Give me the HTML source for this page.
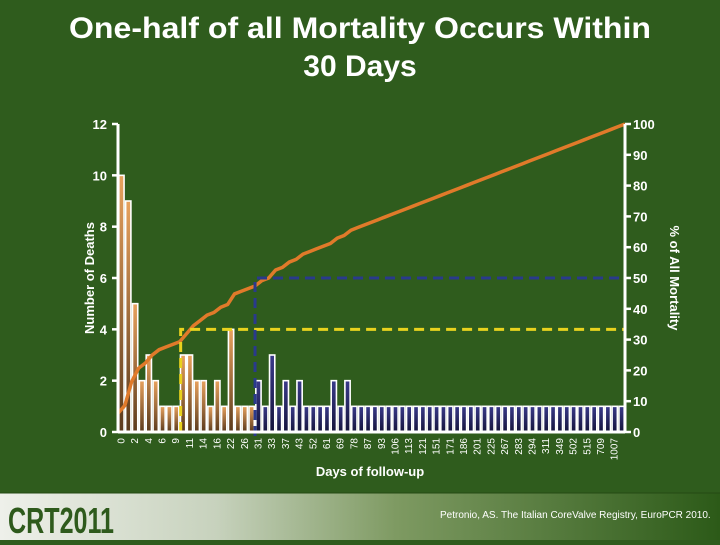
<!DOCTYPE html>
<html><head><meta charset="utf-8"><style>
body{margin:0;width:720px;height:540px;overflow:hidden;background:#2f5c1d;font-family:"Liberation Sans",sans-serif}
</style></head><body>
<svg width="720" height="540" viewBox="0 0 720 540">
<defs>
<linearGradient id="ob" x1="0" y1="0" x2="0" y2="1"><stop offset="0" stop-color="#e8a25e"/><stop offset="1" stop-color="#5a3a1c"/></linearGradient>
<linearGradient id="bb" x1="0" y1="0" x2="0" y2="1"><stop offset="0" stop-color="#3a3a8a"/><stop offset="1" stop-color="#14143a"/></linearGradient>
<linearGradient id="band" x1="0" y1="0" x2="1" y2="0"><stop offset="0" stop-color="#eef0ea"/><stop offset="0.3" stop-color="#c7d2bd"/><stop offset="0.55" stop-color="#7e9a62"/><stop offset="1" stop-color="#2c5a18"/></linearGradient>
</defs>
<text x="360" y="38" fill="#fff" font-size="30" font-weight="bold" text-anchor="middle" textLength="582" lengthAdjust="spacingAndGlyphs">One-half of all Mortality Occurs Within</text>
<text x="360" y="76" fill="#fff" font-size="30" font-weight="bold" text-anchor="middle">30 Days</text>
<g id="plot"></g>
<text x="94" y="278" fill="#fff" font-size="13" font-weight="bold" text-anchor="middle" transform="rotate(-90 94 278)">Number of Deaths</text>
<text x="670" y="278" fill="#fff" font-size="13" font-weight="bold" text-anchor="middle" transform="rotate(90 670 278)">% of All Mortality</text>
<text x="370" y="476" fill="#fff" font-size="13" font-weight="bold" text-anchor="middle">Days of follow-up</text>
<rect x="0" y="493" width="720" height="47" fill="url(#band)"/>
<line x1="0" y1="493" x2="720" y2="493" stroke="#244a14" stroke-width="1"/>
<text x="8" y="533" fill="#2e5a1c" font-size="36" font-weight="bold" textLength="106" lengthAdjust="spacingAndGlyphs">CRT2011</text>
<text x="440" y="518" fill="#fff" font-size="10">Petronio, AS. The Italian CoreValve Registry, EuroPCR 2010.</text>
</svg>
<script>
const dayLabels=["0","2","4","6","9","11","14","16","22","26","31","33","37","43","52","61","69","78","87","93","106","113","121","151","171","186","201","225","267","283","294","311","349","502","515","709","1007"];
const deaths=[10,9,5,2,3,2,1,1,1,3,3,2,2,1,2,1,4,1,1,1,2,1,3,1,2,1,2,1,1,1,1,2,1,2,1,1,1,1,1,1,1,1,1,1,1,1,1,1,1,1,1,1,1,1,1,1,1,1,1,1,1,1,1,1,1,1,1,1,1,1,1,1,1,1];
const leftTicks=[0,2,4,6,8,10,12];
const rightTicks=[0,10,20,30,40,50,60,70,80,90,100];
const thresh30=20;
const NS="http://www.w3.org/2000/svg";
const g=document.getElementById('plot');
const X0=118,X1=625,Y0=432,Y1=124;
const n=deaths.length,pitch=(X1-X0)/n;
const yL=v=>Y0-(v/12)*(Y0-Y1);
const yR=v=>Y0-(v/100)*(Y0-Y1);
const xB=i=>X0+i*pitch;
function mk(t,a){const e=document.createElementNS(NS,t);for(const k in a)e.setAttribute(k,a[k]);g.appendChild(e);return e;}
deaths.forEach((d,i)=>{
 const r=mk('rect',{x:xB(i)+0.8,y:yL(d),width:pitch-1.6,height:Y0-yL(d),fill:i<thresh30?'url(#ob)':'url(#bb)',stroke:'#fff','stroke-width':1.6});
 
 
});
const total=deaths.reduce((a,b)=>a+b,0);
let c=0;const pts=[];
pts.push([X0,yR(100*deaths[0]*0.7/total)]);
deaths.forEach((d,i)=>{c+=d;pts.push([xB(i)+pitch,yR(100*c/total)]);});
const ln=mk('polyline',{points:pts.map(p=>p.join(',')).join(' '),fill:'none',stroke:'#e07a2a','stroke-width':3.5,'stroke-linejoin':'round'});


const yx=xB(9)+1,bx=xB(thresh30);
const d1=mk('path',{d:`M${yx},${Y0} V${yR(33.3)} H${X1}`,fill:'none',stroke:'#e8d21e','stroke-width':3,'stroke-dasharray':'10,6'});


const d2=mk('path',{d:`M${bx},${Y0+4} V${yR(50)} H${X1}`,fill:'none',stroke:'#2a3a8c','stroke-width':3,'stroke-dasharray':'10,6'});


mk('line',{x1:X0,y1:Y1,x2:X0,y2:Y0,stroke:'#fff','stroke-width':3});
mk('line',{x1:X1,y1:Y1,x2:X1,y2:Y0,stroke:'#fff','stroke-width':3});
mk('line',{x1:X0,y1:Y0,x2:X1,y2:Y0,stroke:'#fff','stroke-width':3});
leftTicks.forEach(v=>{
 mk('line',{x1:X0-6,y1:yL(v),x2:X0,y2:yL(v),stroke:'#fff','stroke-width':2.5});
 const t=mk('text',{x:X0-11,y:yL(v)+5,fill:'#fff','font-size':13,'font-weight':'bold','text-anchor':'end'});t.textContent=v;
 
 
});
rightTicks.forEach(v=>{
 mk('line',{x1:X1,y1:yR(v),x2:X1+6,y2:yR(v),stroke:'#fff','stroke-width':2.5});
 const t=mk('text',{x:X1+8,y:yR(v)+5,fill:'#fff','font-size':13,'font-weight':'bold'});t.textContent=v;
 
 
});
dayLabels.forEach((l,i)=>{
 const x=xB(2*i)+pitch/2+3,y=Y0+6;
 const t=mk('text',{x:x,y:y,fill:'#fff','font-size':10,'text-anchor':'end',transform:`rotate(-90 ${x} ${y})`});t.textContent=l;
 
 
});
</script>
</body></html>
